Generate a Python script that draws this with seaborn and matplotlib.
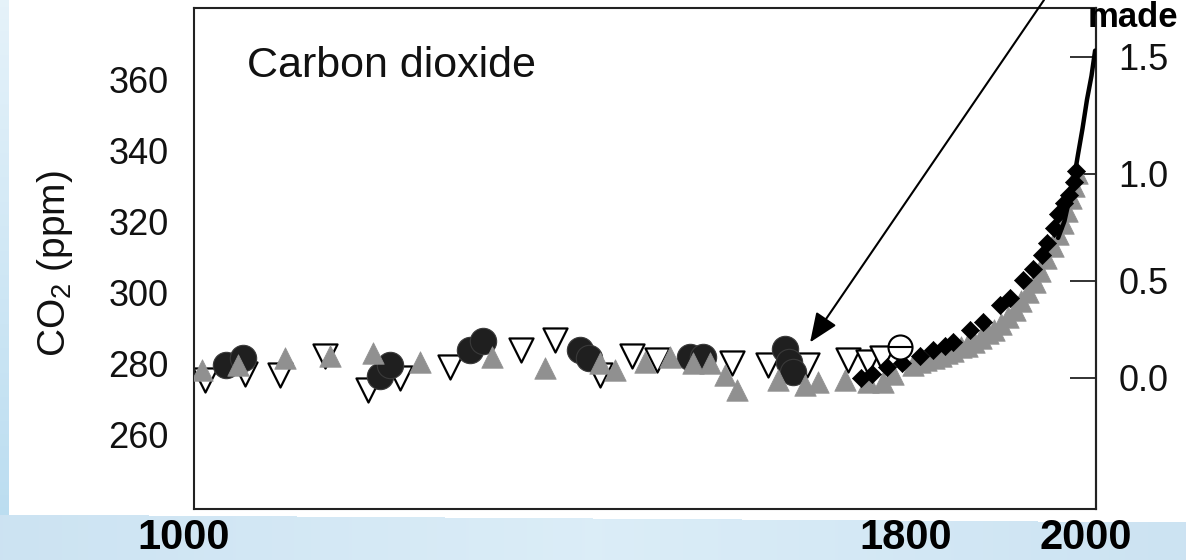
import numpy as np
import pandas as pd
import matplotlib
matplotlib.use("Agg")
import matplotlib.pyplot as plt
from matplotlib import transforms
import seaborn as sns

# ---------------- data ----------------
circle_years = [1036, 1054, 1206, 1217, 1306, 1320, 1428, 1438, 1550, 1564, 1655, 1660, 1664]
circle_ppm = [279.5, 281.5, 276.5, 279.5, 283.7, 286.3, 283.7, 281.5, 281.7, 281.7, 284.0, 280.5, 277.5]

open_tri_years = [1012, 1057, 1095, 1145, 1193, 1228, 1284, 1363, 1400, 1450, 1486, 1513,
                  1597, 1636, 1680, 1725, 1747, 1763]
open_tri_ppm = [275.2, 277.0, 276.6, 282.2, 272.4, 275.8, 279.0, 283.7, 286.5, 276.6, 282.2, 280.8,
                280.0, 279.4, 279.4, 280.8, 280.3, 281.4]

grey_tri_years = [1009, 1049, 1101, 1151, 1199, 1250, 1330, 1389, 1450, 1467, 1500, 1528,
                  1553, 1572, 1589, 1602, 1647, 1677, 1692, 1722, 1747, 1764, 1775, 1797,
                  1805, 1812, 1820, 1828, 1835, 1842, 1850, 1857, 1865, 1872, 1880, 1887,
                  1895, 1902, 1910, 1917, 1925, 1932, 1938, 1945, 1952, 1958, 1963, 1968,
                  1972, 1976, 1979]
grey_tri_ppm = [278.0, 279.4, 281.4, 282.2, 282.8, 280.3, 281.7, 278.6, 280.0, 278.0, 280.3, 281.7,
                280.0, 280.0, 276.6, 272.4, 275.2, 273.8, 274.7, 275.2, 274.7, 274.7, 277.0, 279.4,
                280.5, 281.0, 281.5, 282.0, 283.0, 283.5, 284.5, 285.0, 286.0, 287.0, 288.5, 289.5,
                291.0, 293.0, 295.0, 297.5, 300.0, 303.0, 306.0, 309.5, 313.0, 316.5, 319.5, 323.0,
                326.5, 330.0, 333.5]

diamond_years = [1740, 1752, 1768, 1785, 1805, 1819, 1833, 1842, 1860, 1875, 1894, 1905,
                 1919, 1930, 1940, 1946, 1953, 1958, 1965, 1970, 1976, 1978]
diamond_ppm = [276.0, 277.0, 279.0, 280.0, 282.2, 283.7, 285.0, 286.0, 289.3, 291.5, 296.3, 298.5,
               303.5, 306.5, 310.5, 314.0, 318.0, 322.0, 325.0, 327.5, 331.0, 334.0]

open_circle_years = [1783]
open_circle_ppm = [284.5]

mauna_loa_years = [1958, 1965, 1970, 1975, 1980, 1985, 1990, 1995, 1999]
mauna_loa_ppm = [315.3, 320.0, 325.7, 331.1, 338.7, 346.0, 354.2, 360.9, 368.0]

left_ticks = [260, 280, 300, 320, 340, 360]
right_ticks = [0.0, 0.5, 1.0, 1.5]
right_tick_labels = ["0.0", "0.5", "1.0", "1.5"]
x_ticks = [1200, 1400, 1600, 1800]
bottom_label_years = [1000, 1800, 2000]
bottom_labels = ["1000", "1800", "2000"]

# ---------------- style ----------------
sns.set_style("white")
plt.rcParams["font.family"] = ["Liberation Sans", "DejaVu Sans"]
plt.rcParams["mathtext.fontset"] = "custom"
plt.rcParams["mathtext.rm"] = "Liberation Sans"
plt.rcParams["mathtext.it"] = "Liberation Sans:italic"
plt.rcParams["mathtext.bf"] = "Liberation Sans:bold"

W, H = 1186, 560
fig = plt.figure(figsize=(W / 100, H / 100), dpi=100)
fig.patch.set_facecolor("white")

# slide background: light blue strips on left and bottom
bg = fig.add_axes([0, 0, 1, 1], zorder=-5)
bg.axis("off")
img = np.ones((H, W, 3))
yy, xx = np.mgrid[0:H, 0:W]
t = yy / H
left_mask = xx < 9
top_c = np.array([0.90, 0.95, 0.98])
bot_c = np.array([0.72, 0.86, 0.94])
img[left_mask] = (top_c[None, :] * (1 - t[left_mask][:, None]) + bot_c[None, :] * t[left_mask][:, None])
band_mask = yy > (514 + 8 * xx / W)
u = xx / W
c_edge = np.array([0.80, 0.89, 0.95])
c_mid = np.array([0.86, 0.93, 0.97])
w_mid = 1 - np.abs(u[band_mask] - 0.5) * 2
img[band_mask] = c_edge[None, :] * (1 - w_mid[:, None]) + c_mid[None, :] * w_mid[:, None]
bg.imshow(img, aspect="auto", extent=[0, 1, 0, 1], interpolation="bilinear")
bg.set_xlim(0, 1)
bg.set_ylim(0, 1)

ax = fig.add_axes([194 / W, 1 - 509 / H, 902 / W, 501 / H])
ax.set_facecolor("white")

df_open = pd.DataFrame({"year": open_tri_years, "ppm": open_tri_ppm})
df_circ = pd.DataFrame({"year": circle_years, "ppm": circle_ppm})
df_grey = pd.DataFrame({"year": grey_tri_years, "ppm": grey_tri_ppm})
df_diam = pd.DataFrame({"year": diamond_years, "ppm": diamond_ppm})
df_ocirc = pd.DataFrame({"year": open_circle_years, "ppm": open_circle_ppm})
df_ml = pd.DataFrame({"year": mauna_loa_years, "ppm": mauna_loa_ppm})

sns.scatterplot(data=df_open, x="year", y="ppm", marker="v", s=300, color="white",
                edgecolor="black", linewidth=1.6, ax=ax, zorder=2, legend=False)
sns.scatterplot(data=df_circ, x="year", y="ppm", marker="o", s=360, color="#1f1f1f",
                edgecolor="#3a3a3a", linewidth=0.8, ax=ax, zorder=3, legend=False)
sns.scatterplot(data=df_grey, x="year", y="ppm", marker="^", s=240, color="#909090",
                edgecolor="#909090", linewidth=0.5, ax=ax, zorder=4, legend=False)
sns.scatterplot(data=df_diam, x="year", y="ppm", marker="D", s=85, color="black",
                edgecolor="black", linewidth=0.5, ax=ax, zorder=5, legend=False)
sns.scatterplot(data=df_ocirc, x="year", y="ppm", marker="o", s=300, color="white",
                edgecolor="black", linewidth=1.5, ax=ax, zorder=5, legend=False)
sns.scatterplot(data=df_ocirc, x="year", y="ppm", marker="_", s=300, color="black",
                linewidth=1.5, ax=ax, zorder=6, legend=False)
sns.lineplot(data=df_ml, x="year", y="ppm", color="black", linewidth=3.2, ax=ax, zorder=7,
             legend=False)

ax.set_xlim(1000, 2000)
ax.set_ylim(239, 380)
ax.set_xticks(x_ticks)
ax.set_yticks(left_ticks)
ax.tick_params(axis="x", direction="in", length=13, width=1.3, color="#222222",
               labelbottom=False)
ax.tick_params(axis="y", direction="in", length=19, width=1.3, color="#222222",
               labelsize=26, pad=18, labelcolor="#111111")
for sp in ax.spines.values():
    sp.set_visible(True)
    sp.set_linewidth(1.5)
    sp.set_color("#222222")
ax.set_xlabel("")
ax.set_ylabel(r"CO$_\mathrm{2}$ (ppm)", fontsize=28, color="#111111")
ax.yaxis.set_label_coords(-0.132, 0.49)

C0, K = 276.0, 5.3


def fwd(c):
    return K * np.log(np.asarray(c, dtype=float) / C0)


def inv(f):
    return C0 * np.exp(np.asarray(f, dtype=float) / K)


sec = ax.secondary_yaxis("right", functions=(fwd, inv))
sec.set_yticks(right_ticks)
sec.set_yticklabels(right_tick_labels)
sec.tick_params(direction="in", length=19, width=1.3, color="#222222", labelsize=26,
                pad=16, labelcolor="#111111")
sec.spines["right"].set_linewidth(1.5)
sec.spines["right"].set_color("#222222")

ax.text(0.0588, 0.862, "Carbon dioxide", transform=ax.transAxes, fontsize=31,
        va="baseline", ha="left", color="#111111")

lab_tr = transforms.offset_copy(ax.get_xaxis_transform(), fig=fig, x=-10, y=0, units="dots")
for yr, lab in zip(bottom_label_years, bottom_labels):
    ax.text(yr, -0.058, lab, transform=lab_tr, ha="center", va="center", fontsize=30,
            fontweight="bold", color="black", clip_on=False)

ax.annotate("", xy=(1683, 285.9), xycoords="data", xytext=(1044 / W, 1.0),
            textcoords="figure fraction", annotation_clip=False,
            arrowprops=dict(arrowstyle="-|>,head_length=0.6,head_width=0.25",
                            color="black", lw=1.5, mutation_scale=30, shrinkA=0, shrinkB=0))

fig.text(1088 / W, 1 - 27 / H, "made", fontsize=25, fontweight="bold", va="baseline",
         ha="left", color="black")

fig.savefig("out.png", dpi=100)
